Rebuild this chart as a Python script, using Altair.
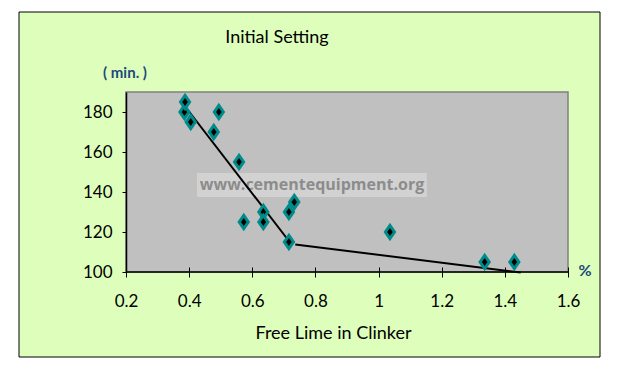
import altair as alt
import pandas as pd

# Observed data points (Free lime %, initial setting minutes)
free_lime = [0.385, 0.387, 0.405, 0.478, 0.494, 0.558, 0.573, 0.635, 0.635,
             0.716, 0.716, 0.733, 1.036, 1.336, 1.43]
setting = [180, 185, 175, 170, 180, 155, 125, 130, 125, 130, 115, 135, 120, 105, 105]

# Trend line segments
line_x = [0.374, 0.716, 0.736, 1.45]
line_y = [185.5, 115.5, 113.8, 99.7]
line_seg = ["a", "a", "b", "b"]

y_ticks = [100, 120, 140, 160, 180]
x_ticks = [0.2, 0.4, 0.6, 0.8, 1.0, 1.2, 1.4, 1.6]

wm_text = ["www.cementequipment.org"]
wm_box_x = [0.425]; wm_box_x2 = [1.153]
wm_box_y = [149.5]; wm_box_y2 = [137.5]
wm_x = [0.789]; wm_y = [143.5]

FONT = "Lato"
W, H = 442, 180

pts = pd.DataFrame({"x": free_lime, "y": setting})
lines = pd.DataFrame({"x": line_x, "y": line_y, "seg": line_seg})
wm = pd.DataFrame({"t": wm_text, "x": wm_box_x, "x2": wm_box_x2,
                   "y": wm_box_y, "y2": wm_box_y2, "tx": wm_x, "ty": wm_y})
one = pd.DataFrame({"a": [0]})

xs = alt.Scale(domain=[0.2, 1.6], nice=False, zero=False)
ys = alt.Scale(domain=[100, 190], nice=False, zero=False)

frame = alt.Chart(one).mark_rect(fill="#DDFFBB", stroke="black", strokeWidth=1).encode(
    x=alt.value(-107), x2=alt.value(474), y=alt.value(-80), y2=alt.value(265))

plotbg = alt.Chart(one).mark_rect(fill="#C0C0C0", stroke="#808080", strokeWidth=1.5).encode(
    x=alt.value(0), x2=alt.value(W), y=alt.value(0), y2=alt.value(H))

wm_rect = alt.Chart(wm).mark_rect(fill="#D4D4D4", opacity=0.9).encode(
    x=alt.X("x:Q", scale=xs), x2="x2:Q", y=alt.Y("y:Q", scale=ys), y2="y2:Q")
wm_txt = alt.Chart(wm).mark_text(font="Open Sans", fontSize=16, fontWeight="bold",
                                 color="#8C8C8C").encode(
    x=alt.X("tx:Q", scale=xs), y=alt.Y("ty:Q", scale=ys), text="t:N")

xbase = alt.Chart(one).mark_rule(color="black", strokeWidth=1.5).encode(
    x=alt.value(0), x2=alt.value(W), y=alt.value(H))

trend = alt.Chart(lines).mark_line(color="black", strokeWidth=2).encode(
    x=alt.X("x:Q", scale=xs), y=alt.Y("y:Q", scale=ys), detail="seg:N")

diamond = "M0,-1L0.7,0L0,1L-0.7,0Z"
marks = alt.Chart(pts).mark_point(shape=diamond, size=170, filled=True, fill="black",
                                  stroke="#008B8B", strokeWidth=3, opacity=1).encode(
    x=alt.X("x:Q", scale=xs,
            axis=alt.Axis(values=x_ticks, title="Free Lime in Clinker", grid=False,
                          domain=False, offset=-5, tickSize=10, tickColor="black",
                          labelFont=FONT, labelFontSize=17, labelColor="black",
                          labelPadding=16, labelFlush=False, zindex=2,
                          titleFont=FONT, titleFontSize=18, titleFontWeight="normal",
                          titleColor="black", titlePadding=15, titleX=207,
                          labelExpr="datum.value == 1 ? '1' : format(datum.value, '.1f')")),
    y=alt.Y("y:Q", scale=ys,
            axis=alt.Axis(values=y_ticks, title=None, grid=False, domainColor="black",
                          domainWidth=1.5, tickColor="black", tickSize=4, zindex=2,
                          labelFont=FONT, labelFontSize=17, labelColor="black",
                          labelPadding=10)))

title_t = alt.Chart(one).mark_text(text="Initial Setting", font=FONT, fontSize=18,
                                   color="black").encode(x=alt.value(151), y=alt.value(-54))
ylab = alt.Chart(one).mark_text(text="( min. )", font=FONT, fontSize=15, fontWeight="bold",
                                color="#1F497D").encode(x=alt.value(-1), y=alt.value(-19))
pct = alt.Chart(one).mark_text(text="%", font=FONT, fontSize=16, fontWeight="bold",
                               color="#1F497D").encode(x=alt.value(459), y=alt.value(179))

chart = alt.layer(frame, plotbg, wm_rect, wm_txt, xbase, trend, marks, title_t, ylab, pct).properties(
    width=W, height=H,
    padding={"left": 126, "top": 92, "right": 56, "bottom": 98},
    autosize=alt.AutoSizeParams(type="none"),
    background="white",
).configure_view(stroke=None)

chart.save("out.html", embed_options={"renderer": "svg", "actions": False})
